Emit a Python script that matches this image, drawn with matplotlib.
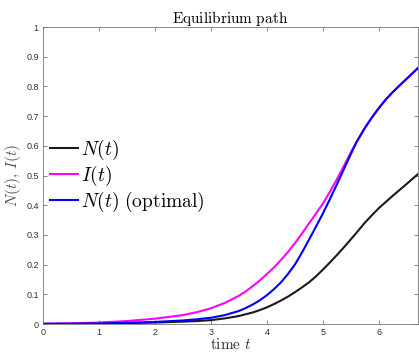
import matplotlib
matplotlib.use("Agg")
import matplotlib.pyplot as plt

plt.rcParams["mathtext.fontset"] = "cm"
plt.rcParams["font.family"] = ["Liberation Sans", "DejaVu Sans"]

# values
t = [0, 0.5, 1, 1.5, 2, 2.5, 2.75, 3, 3.25, 3.5, 3.625, 3.75, 3.875, 4,
     4.125, 4.25, 4.375, 4.5, 4.625, 4.75, 4.875, 5, 5.125, 5.25, 5.375,
     5.5, 5.6, 5.75, 5.875, 6, 6.125, 6.25, 6.375, 6.5, 6.7]
n_eq = [0.0003, 0.0008, 0.0015, 0.003, 0.005, 0.008, 0.010, 0.013, 0.019,
        0.027, 0.033, 0.039, 0.047, 0.056, 0.067, 0.079, 0.092, 0.107, 0.123,
        0.14, 0.16, 0.183, 0.207, 0.232, 0.258, 0.285, 0.307, 0.341, 0.366,
        0.39, 0.411, 0.432, 0.452, 0.472, 0.505]
i_eq = [0.001, 0.002, 0.005, 0.010, 0.018, 0.030, 0.040, 0.053, 0.071,
        0.095, 0.11, 0.128, 0.147, 0.168, 0.19, 0.215, 0.242, 0.272, 0.304,
        0.338, 0.371, 0.405, 0.445, 0.487, 0.532, 0.578, 0.612, 0.66, 0.695,
        0.727, 0.756, 0.781, 0.804, 0.826, 0.862]
n_opt = [0.0005, 0.001, 0.002, 0.004, 0.007, 0.012, 0.016, 0.021, 0.030,
         0.044, 0.054, 0.066, 0.08, 0.097, 0.117, 0.14, 0.168, 0.20, 0.24,
         0.283, 0.327, 0.372, 0.42, 0.47, 0.521, 0.572, 0.612, 0.66, 0.695,
         0.727, 0.756, 0.781, 0.804, 0.826, 0.862]

xticks = [0, 1, 2, 3, 4, 5, 6]
yticks = [0, 0.1, 0.2, 0.3, 0.4, 0.5, 0.6, 0.7, 0.8, 0.9, 1]
ytick_labels = ["0", "0.1", "0.2", "0.3", "0.4", "0.5", "0.6", "0.7", "0.8", "0.9", "1"]

fig = plt.figure(figsize=(4.19, 3.54), dpi=100)
ax = fig.add_axes([0.1026, 0.0847, 0.895, 0.839])

ax.plot(t, n_eq, color="#1a1a1a", lw=1.5, label=r"$N(t)$")
ax.plot(t, i_eq, color="#ff00ff", lw=1.5, label=r"$I(t)$")
ax.plot(t, n_opt, color="#0000ff", lw=1.5, label=r"$N(t)\ \mathrm{(optimal)}$")

ax.set_xlim(0, 6.7)
ax.set_ylim(0, 1)
ax.set_xticks(xticks)
ax.set_yticks(yticks)
ax.set_yticklabels(ytick_labels)
ax.tick_params(direction="in", length=3, width=0.5, top=True, right=True,
               labelsize=6.5, labelcolor="#333333", color="#555555", pad=3)
for s in ax.spines.values():
    s.set_color("#777777")
    s.set_linewidth(0.6)

ax.set_title(r"$\mathrm{Equilibrium\ path}$", fontsize=11, pad=3)
ax.set_xlabel(r"$\mathrm{time}\ t$", fontsize=11, labelpad=0, color="#333333")
ax.set_ylabel(r"$N(t),\, I(t)$", fontsize=11, labelpad=2, color="#555555")

ax.legend(loc="center left", bbox_to_anchor=(0.02, 0.5), frameon=False,
          fontsize=14, handlelength=1.4, handletextpad=0.15,
          labelspacing=0.1, borderaxespad=0, borderpad=0)

fig.savefig("out.png", dpi=100)
